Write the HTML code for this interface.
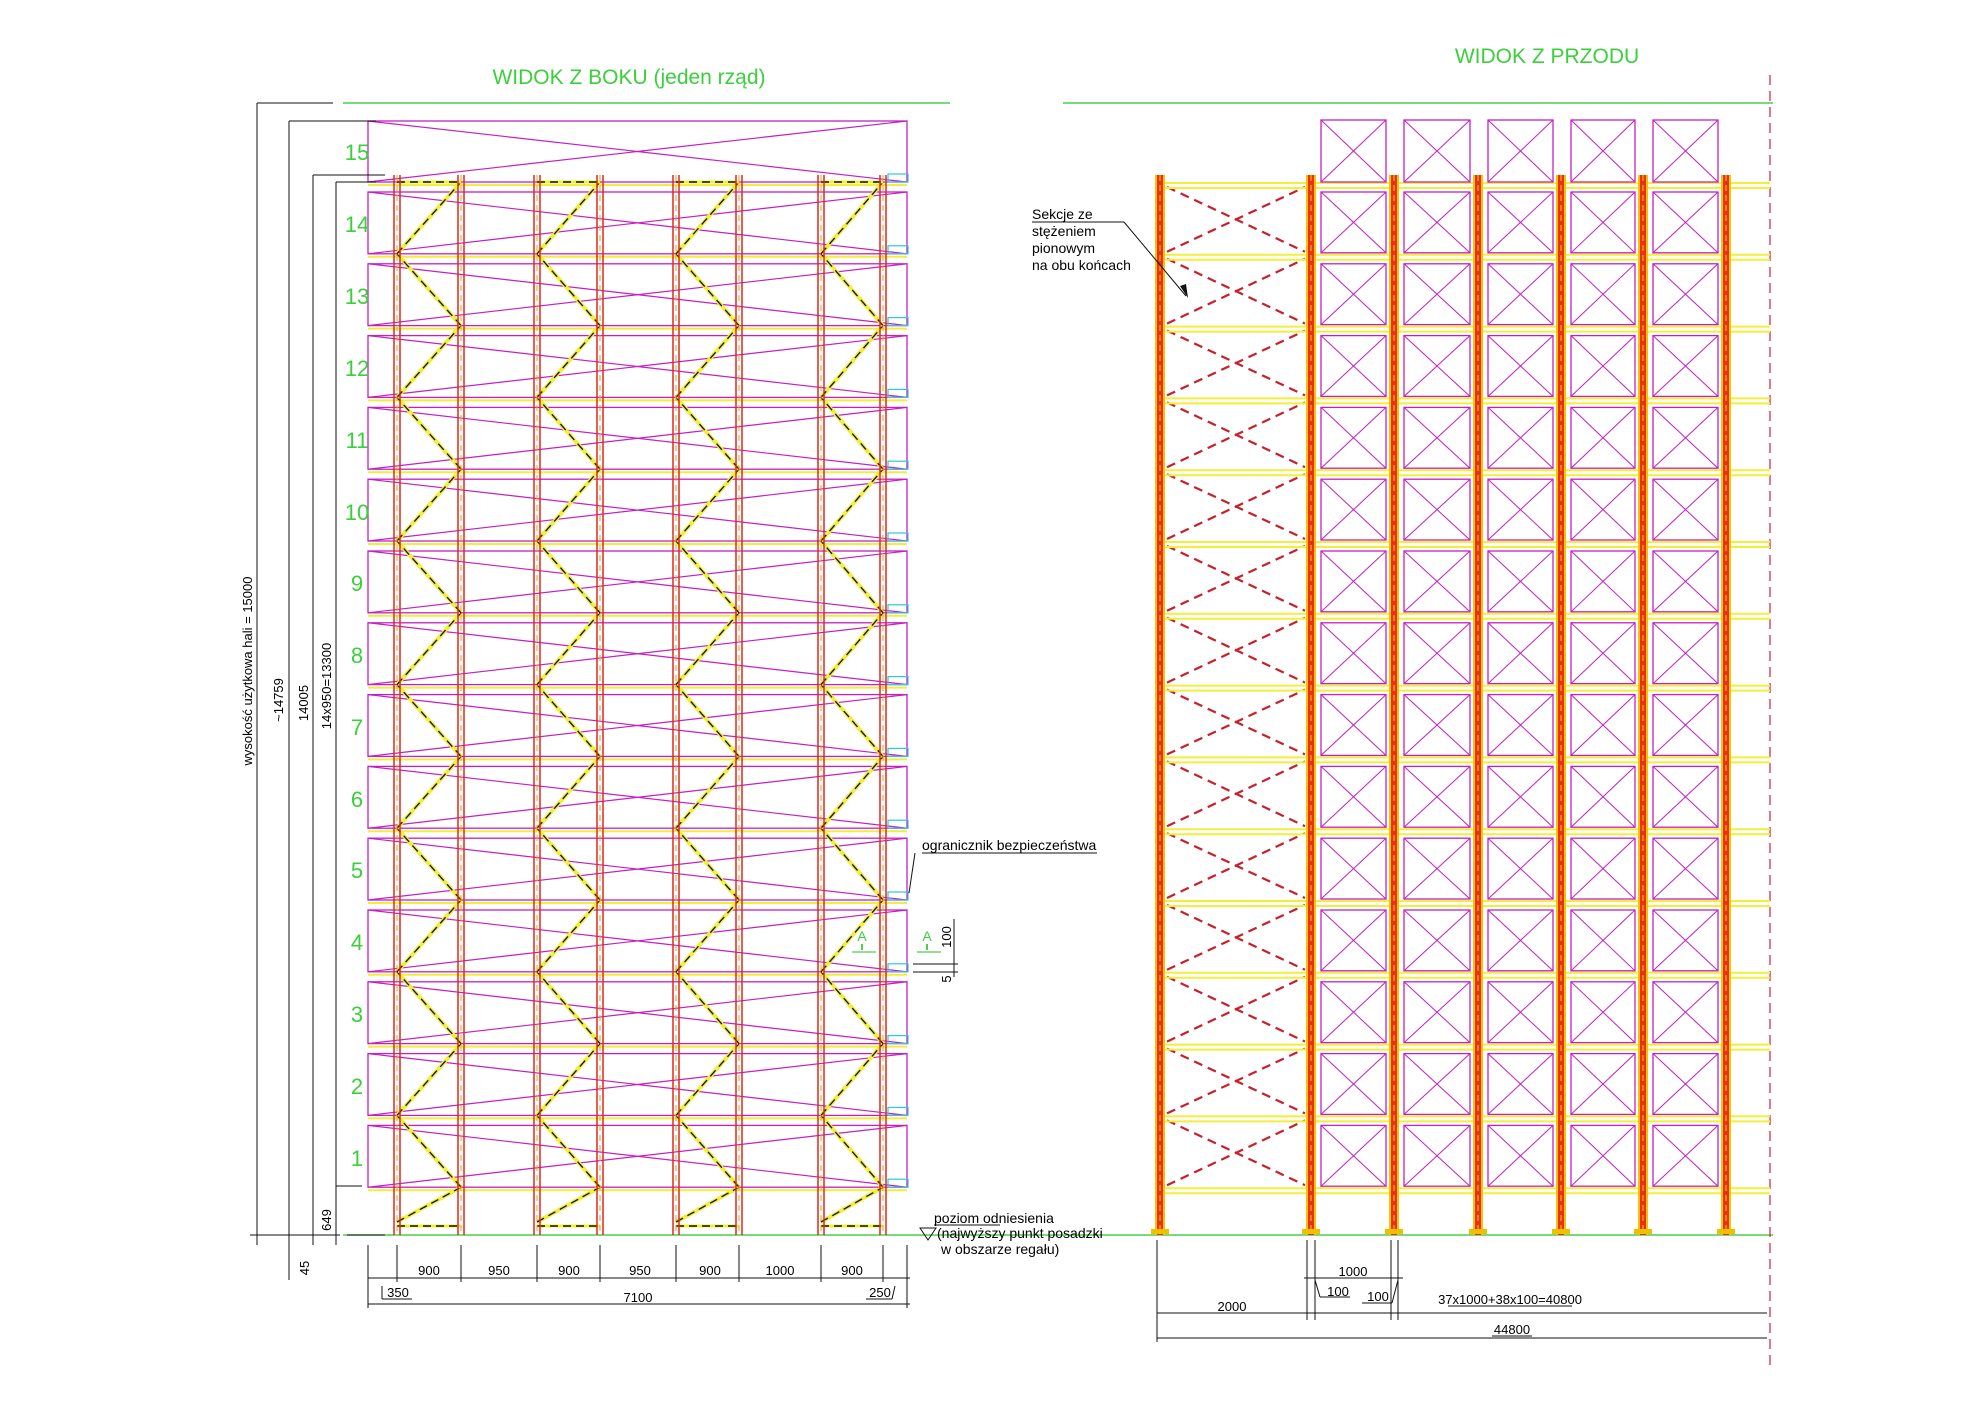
<!DOCTYPE html>
<html><head><meta charset="utf-8"><style>
html,body{margin:0;padding:0;background:#fff}
svg{display:block}
text{font-family:"Liberation Sans",sans-serif}
</style></head><body>
<svg id="s" width="1987" height="1404" viewBox="0 0 1987 1404" xmlns="http://www.w3.org/2000/svg">
<rect width="1987" height="1404" fill="#fff"/>
<g id="geo"></g>
<!-- titles -->
<text x="629" y="84" font-size="21" fill="#3ccf3c" text-anchor="middle">WIDOK Z BOKU (jeden rząd)</text>
<text x="1547" y="63" font-size="21" fill="#3ccf3c" text-anchor="middle">WIDOK Z PRZODU</text>
<!-- level numbers -->
<g font-size="22" fill="#3ccf3c" text-anchor="middle">
<text x="357" y="160">15</text>
<text x="357" y="232">14</text><text x="357" y="304">13</text><text x="357" y="376">12</text><text x="357" y="448">11</text>
<text x="357" y="520">10</text><text x="357" y="591">9</text><text x="357" y="663">8</text><text x="357" y="735">7</text>
<text x="357" y="807">6</text><text x="357" y="878">5</text><text x="357" y="950">4</text><text x="357" y="1022">3</text>
<text x="357" y="1094">2</text><text x="357" y="1166">1</text>
</g>
<!-- left dims text -->
<g font-size="13" fill="#000" text-anchor="middle">
<text transform="translate(252,671) rotate(-90)">wysokość użytkowa hali = 15000</text>
<text transform="translate(283,700) rotate(-90)">~14759</text>
<text transform="translate(308,703) rotate(-90)">14005</text>
<text transform="translate(331,686) rotate(-90)">14x950=13300</text>
<text transform="translate(331,1220) rotate(-90)">649</text>
<text transform="translate(309,1268) rotate(-90)">45</text>
<text transform="translate(951,937) rotate(-90)">100</text>
<text transform="translate(951,979) rotate(-90)">5</text>
</g>
<g font-size="13" fill="#000" text-anchor="middle">
<text x="429" y="1275">900</text><text x="499" y="1275">950</text><text x="569" y="1275">900</text>
<text x="640" y="1275">950</text><text x="710" y="1275">900</text><text x="780" y="1275">1000</text><text x="852" y="1275">900</text>
<text x="638" y="1302">7100</text><text x="398" y="1297">350</text><text x="880" y="1297">250</text>
</g>
<g font-size="14" fill="#000">
<text x="922" y="850">ogranicznik bezpieczeństwa</text>
<text x="934" y="1223">poziom odniesienia</text>
<text x="937" y="1238">(najwyższy punkt posadzki</text>
<text x="941" y="1254">w obszarze regału)</text>
<text x="1032" y="219">Sekcje ze</text>
<text x="1032" y="236">stężeniem</text>
<text x="1032" y="253">pionowym</text>
<text x="1032" y="270">na obu końcach</text>
</g>
<g font-size="14" fill="#3ccf3c" text-anchor="middle"><text x="862" y="941">A</text><text x="927" y="941">A</text></g>
<g font-size="13" fill="#000" text-anchor="middle">
<text x="1353" y="1276">1000</text><text x="1338" y="1296">100</text><text x="1378" y="1301">100</text>
<text x="1232" y="1311">2000</text><text x="1510" y="1304">37x1000+38x100=40800</text><text x="1512" y="1334">44800</text>
</g>
</svg>
<script>
const NS="http://www.w3.org/2000/svg",g=document.getElementById('geo');
function L(x1,y1,x2,y2,c,w,d){const e=document.createElementNS(NS,'line');e.setAttribute('x1',x1);e.setAttribute('y1',y1);e.setAttribute('x2',x2);e.setAttribute('y2',y2);e.setAttribute('stroke',c);e.setAttribute('stroke-width',w||1);if(d)e.setAttribute('stroke-dasharray',d);g.appendChild(e);}
function R(x,y,w,h,f,s,sw){const e=document.createElementNS(NS,'rect');e.setAttribute('x',x);e.setAttribute('y',y);e.setAttribute('width',w);e.setAttribute('height',h);e.setAttribute('fill',f||'none');if(s){e.setAttribute('stroke',s);e.setAttribute('stroke-width',sw||1);}g.appendChild(e);}
const Y=n=>182+n*71.8;
const M='#c31fc3',YL='#f2ee3a',RD='#e0281c',K='#111',GR='#4fce4f';
// green lines
L(343,103,950,103,GR,1.5);L(1063,103,1773,103,GR,1.5);L(343,1235,1773,1235,GR,1.5);
L(1770,75,1770,1365,'#d0203a',1.2,'10,6');
// LEFT VIEW
const LX=368,RX=907;
// box 15
R(LX,121,RX-LX,61,'none',M,1.3);L(LX,121,RX,182,M,1.2);L(LX,182,RX,121,M,1.2);
for(let n=0;n<14;n++){const t=Y(n)+10,b=Y(n+1);R(LX,t,RX-LX,b-t,'none',M,1.3);L(LX,t,RX,b,M,1.2);L(LX,b,RX,t,M,1.2);}
for(let n=0;n<=14;n++){L(LX,Y(n)+3,RX,Y(n)+3,YL,2);R(888,Y(n)-8,20,8,'none','#2ec8e0',1.2);}
const pairs=[[397,461],[537,600],[676,739],[821,883]];
pairs.forEach(([a,b])=>{
 // bracing
 let pts=[[a,1222]];for(let n=14;n>=0;n--){pts.push([(n%2==0)?b:a,Y(n)]);}
 for(let i=0;i<pts.length-1;i++){L(pts[i][0],pts[i][1],pts[i+1][0],pts[i+1][1],YL,4);L(pts[i][0],pts[i][1],pts[i+1][0],pts[i+1][1],K,1.3,'8,5');}
 L(a,182,b,182,YL,3);L(a,182,b,182,K,1.5,'8,5');L(a,1226,b,1226,YL,3);L(a,1226,b,1226,K,1.5,'8,5');
 [a,b].forEach(x=>{L(x-3,175,x-3,1235,RD,1.5);L(x+3,175,x+3,1235,RD,1.5);L(x,175,x,1235,'#e0a020',1,'6,4');});
});
// left dims
L(257,103,333,103,K,1);L(257,103,257,1245,K,1);
L(289,121,376,121,K,1);L(289,121,289,1280,K,1);
L(313,175,385,175,K,1);L(313,175,313,1245,K,1);
L(336,182,376,182,K,1);L(336,182,336,1245,K,1);
L(336,1186,362,1186,K,1);L(347,1235,385,1235,K,1);L(250,1235,340,1235,K,1);
[368,397,461,537,600,676,739,821,883,907].forEach(x=>L(x,1245,x,1282,K,1));
L(368,1278,910,1278,K,1);L(368,1304,910,1304,K,1);L(368,1245,368,1308,K,1);L(907,1245,907,1308,K,1);
L(382,1286,382,1299,K,1);L(382,1299,412,1299,K,1);L(895,1286,892,1299,K,1);L(892,1299,866,1299,K,1);
// ogranicznik leader
L(922,853,1097,853,K,1);L(915,853,909,893,K,1);
// A markers
[862,927].forEach(x=>{L(x-10,952,x+14,952,GR,1.2);L(x,944,x,950,GR,2);});
L(954,919,954,977,K,1);L(913,964,958,964,K,1);L(913,972,958,972,K,1);
// triangle
const tr=document.createElementNS(NS,'path');tr.setAttribute('d','M920 1228 L936 1228 L928 1240 Z');tr.setAttribute('fill','none');tr.setAttribute('stroke',K);g.appendChild(tr);
L(934,1225,1000,1225,K,1);
// RIGHT VIEW
const U=[1160,1311,1394,1478,1561,1643,1726];
// left bay X bracing
for(let n=0;n<14;n++){L(1167,Y(n)+5,1305,Y(n+1)-2,'#c8202a',2.2,'9,6');L(1167,Y(n+1)-2,1305,Y(n)+5,'#c8202a',2.2,'9,6');}
for(let n=0;n<=14;n++){L(1160,Y(n)+1,1770,Y(n)+1,YL,2);L(1160,Y(n)+6,1770,Y(n)+6,YL,2);}
for(let i=1;i<6;i++){const x1=U[i]+10,x2=U[i+1]-8;
 const rows=[[120,182]];for(let n=0;n<14;n++)rows.push([Y(n)+10,Y(n+1)-1]);
 rows.forEach(([t,b])=>{R(x1,t,x2-x1,b-t,'none',M,1.3);L(x1,t,x2,b,M,1);L(x1,b,x2,t,M,1);});}
U.forEach(x=>{R(x-5,175,10,1060,'#f5c400');R(x-3,175,6,1060,'#e8301a');L(x,175,x,1235,'#f5d000',1,'6,4');R(x-9,1229,18,5,'#f0c000');});
// annotation leader
L(1032,222,1124,222,K,1);L(1124,222,1186,296,K,1);
const ar=document.createElementNS(NS,'path');ar.setAttribute('d','M1188 298 L1180 286 L1186 284 Z');ar.setAttribute('fill',K);g.appendChild(ar);
// right dims
[1157,1307,1315,1391,1398].forEach(x=>L(x,1240,x,1320,K,1));
L(1304,1278,1403,1278,K,1);L(1157,1313,1767,1313,K,1);L(1157,1338,1767,1338,K,1);L(1157,1240,1157,1342,K,1);
L(1315,1280,1320,1297,K,1);L(1320,1297,1350,1297,K,1);L(1398,1280,1392,1303,K,1);L(1392,1303,1362,1303,K,1);
L(1448,1306,1572,1306,K,1);L(1492,1336,1532,1336,K,1);
</script>
</body></html>
